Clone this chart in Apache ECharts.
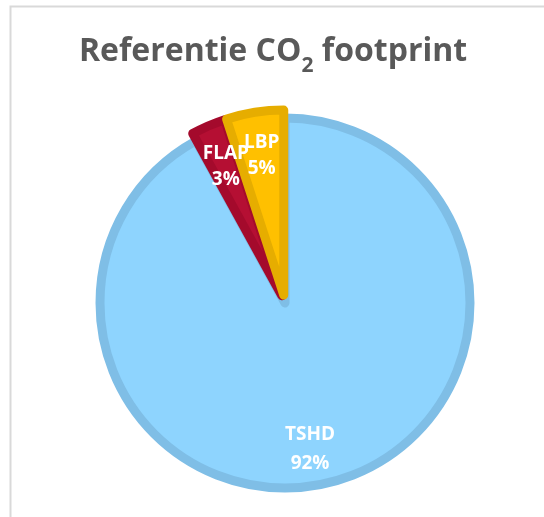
<!DOCTYPE html>
<html>
<head>
<meta charset="utf-8">
<script src="https://cdn.jsdelivr.net/npm/echarts@6/dist/echarts.min.js"></script>
<style>
  html, body { margin: 0; padding: 0; background: #fff; }
  #chart { width: 544px; height: 517px; }
</style>
</head>
<body>
<div id="chart"></div>
<script>
    // data
    var categories = ['TSHD', 'FLAP', 'LBP'];
    var values = [92, 3, 5];           // procent
    var exploded = [false, true, true];
    var fillColors = ['#8ED4FE', '#B50F33', '#FFC000'];
    var borderColors = ['#7FBEE6', '#A40A2C', '#E6AD00'];

    var pieData = categories.map(function (name, i) {
        return {
            name: name,
            value: values[i],
            selected: exploded[i],
            itemStyle: { color: fillColors[i], borderColor: borderColors[i] }
        };
    });
    // zelfde data, alleen voor de labels (transparante ring)
    var labelData = categories.map(function (name, i) {
        var item = { name: name, value: values[i], selected: exploded[i] };
        if (!exploded[i]) {
            item.label = { lineHeight: 29 };
        }
        return item;
    });

    var myChart = echarts.init(document.getElementById('chart'), null, { renderer: 'canvas' });
    var option = {
        animation: false,
        backgroundColor: '#ffffff',
        graphic: [{
            type: 'rect',
            shape: { x: 10.5, y: 6.5, width: 560, height: 540 },
            style: { fill: 'none', stroke: '#D9D9D9', lineWidth: 2 },
            silent: true
        }],
        title: {
            text: '{a|Referentie CO}{s|2}{a| footprint}',
            left: 268,
            top: 22,
            textAlign: 'center',
            textStyle: {
                rich: {
                    a: { fontFamily: 'Open Sans', fontWeight: 'bold', fontSize: 32, color: '#595959', lineHeight: 40, verticalAlign: 'middle' },
                    s: { fontFamily: 'Open Sans', fontWeight: 'bold', fontSize: 21, color: '#595959', lineHeight: 50, verticalAlign: 'bottom' }
                }
            }
        },
        series: [
            {
                type: 'pie',
                center: [285, 303],
                radius: 185,
                startAngle: 90,
                clockwise: true,
                selectedMode: 'multiple',
                selectedOffset: 8,
                avoidLabelOverlap: false,
                silent: true,
                itemStyle: { borderWidth: 9 },
                label: { show: false },
                labelLine: { show: false },
                emphasis: { disabled: true },
                data: pieData
            },
            {
                type: 'pie',
                center: [285, 303],
                radius: [91, 185],
                startAngle: 90,
                clockwise: true,
                selectedMode: 'multiple',
                selectedOffset: 8,
                avoidLabelOverlap: false,
                silent: true,
                itemStyle: { color: 'rgba(0,0,0,0)', borderWidth: 0 },
                labelLayout: function (params) {
                    // groot segment: label iets lager en naar links, zoals in Excel
                    if (!exploded[params.dataIndex]) {
                        return { dx: -10, dy: 10, hideOverlap: false };
                    }
                    return { hideOverlap: false };
                },
                label: {
                    show: true,
                    position: 'inside',
                    formatter: '{b}\n{c}%',
                    color: '#ffffff',
                    fontFamily: 'Open Sans',
                    fontWeight: 'bold',
                    fontSize: 19,
                    lineHeight: 26,
                    textBorderWidth: 0
                },
                labelLine: { show: false },
                emphasis: { disabled: true },
                data: labelData
            }
        ]
    };
    myChart.setOption(option);
</script>
</body>
</html>
